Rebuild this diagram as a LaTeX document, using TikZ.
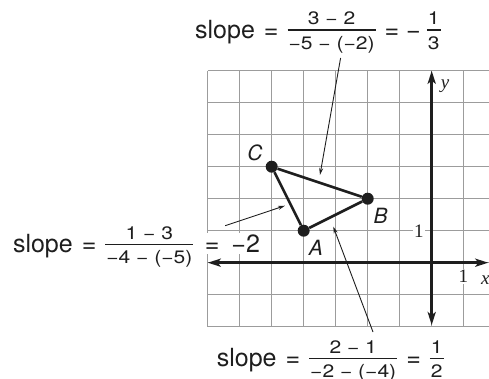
\documentclass[tikz,border=0pt]{standalone}
\usepackage{fontspec}
\setmainfont{TeX Gyre Heros}
\newfontfamily\frfont[FakeStretch=1.17]{TeX Gyre Heros}
\newfontfamily\axfont{Liberation Serif}
\usetikzlibrary{arrows.meta}
\newsavebox\numbox
\newsavebox\denbox
\newlength\frlen
\newcommand{\fr}[2]{%
 \sbox\numbox{\fontsize{18bp}{21bp}\frfont #1}%
 \sbox\denbox{\fontsize{18bp}{21bp}\frfont #2}%
 \setlength\frlen{\wd\numbox}%
 \ifdim\wd\denbox>\frlen\setlength\frlen{\wd\denbox}\fi
 \addtolength\frlen{2bp}%
 \rlap{\makebox[\frlen]{\raisebox{13.3bp}{\usebox\numbox}}}%
 \rlap{\makebox[\frlen]{\raisebox{-11bp}{\usebox\denbox}}}%
 \rule[7.6bp]{\frlen}{1.2bp}}
\definecolor{ink}{HTML}{1E1E1E}
\definecolor{gridc}{HTML}{9C9C9C}
\begin{document}
\begin{tikzpicture}[x=32bp,y=32bp,
  gridline/.style={draw=gridc,line width=1.2bp},
  axisline/.style={draw=ink,line width=2.7bp,{Stealth[length=13bp,width=8bp,inset=3bp]}-{Stealth[length=13bp,width=8bp,inset=3bp]}},
  edge/.style={draw=ink,line width=2.6bp},
  pointer/.style={draw=ink,line width=0.9bp,-{Stealth[length=7bp,width=4bp]}},
  dot/.style={circle,fill=ink,inner sep=0pt,minimum size=12bp},
  lbl/.style={inner sep=0pt,text=ink,font=\fontsize{25bp}{30bp}\selectfont},
  ptlbl/.style={inner sep=0pt,text=ink,font=\fontsize{21bp}{25bp}\selectfont\itshape},
  axlbl/.style={inner sep=1.2bp,text=ink,font=\fontsize{19bp}{22bp}\axfont}]
\useasboundingbox (-13.4906,-3.6344) rectangle (1.7906,8.2094);
% grid
\draw[gridline] (-7,-2) grid[step=1] (1.7906,6);
% axes
\coordinate (xl) at (-7,0);
\coordinate (xr) at (1.77,0);
\coordinate (yb) at (0,-1.95);
\coordinate (yt) at (0,6);
\draw[axisline] (xl) -- (xr);
\draw[axisline] (yb) -- (yt);
% axis labels
\node[axlbl,fill=white] (one-y) at (-0.403,0.969) {1};
\node[axlbl,fill=white] (one-x) at (0.99,-0.4375) {1};
\node[axlbl,font=\fontsize{19bp}{22bp}\axfont\itshape] (xlab) at (1.675,-0.54) {x};
\node[axlbl,font=\fontsize{19bp}{22bp}\axfont\itshape] (ylab) at (0.416,5.528) {y};
% triangle
\node[dot] (A) at (-4,1) {};
\node[dot] (B) at (-2,2) {};
\node[dot] (C) at (-5,3) {};
\draw[edge] (A) -- (B);
\draw[edge] (B) -- (C);
\draw[edge] (C) -- (A);
\node[ptlbl] (Alab) at (-3.62,0.475) {A};
\node[ptlbl] (Blab) at (-1.597,1.469) {B};
\node[ptlbl] (Clab) at (-5.52,3.444) {C};
% slope labels
\node[lbl,anchor=base west] (top) at (-7.397,7.0125)
  {slope\hspace{9bp}=\hspace{9bp}\fr{3 − 2}{−5 − (−2)}\hspace{9bp}=\hspace{7bp}−\hspace{6bp}\fr{1}{3}};
\node[lbl,anchor=base west] (lefts) at (-13.09,0.319)
  {slope\hspace{9bp}=\hspace{9bp}\fr{1 − 3}{−4 − (−5)}};
\node[lbl,anchor=base west,fill=white,inner sep=2bp] (leftr) at ([xshift=9bp]lefts.base east)
  {=\hspace{12bp}−2};
\node[lbl,anchor=base west] (bot) at (-6.72,-3.25)
  {slope\hspace{9bp}=\hspace{9bp}\fr{2 − 1}{−2 − (−4)}\hspace{9bp}=\hspace{9bp}\fr{1}{2}};
% pointers
\coordinate (p1s) at (-2.847,6.397);
\coordinate (p1e) at (-3.491,2.741);
\coordinate (p2s) at (-6.453,1.156);
\coordinate (p2e) at (-4.584,1.781);
\coordinate (p3s) at (-1.834,-2.166);
\coordinate (p3e) at (-3.075,1.125);
\draw[pointer] (p1s) -- (p1e);
\draw[pointer] (p2s) -- (p2e);
\draw[pointer] (p3s) -- (p3e);
\end{tikzpicture}
\end{document}
